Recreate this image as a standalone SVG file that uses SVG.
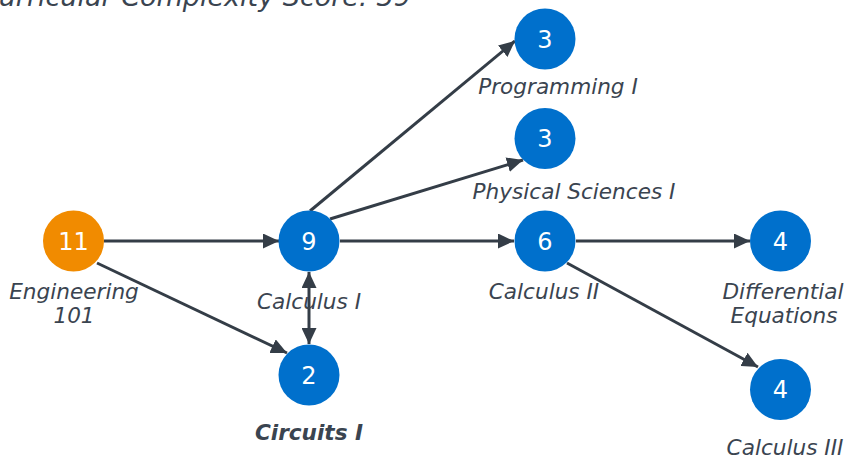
<svg xmlns="http://www.w3.org/2000/svg" width="849" height="459" viewBox="0 0 849 459">
<style>
.lbl{font-family:"DejaVu Sans",Verdana,sans-serif;font-size:21.6px;font-style:italic;fill:#3a4450;text-anchor:middle}
.num{font-family:"DejaVu Sans",Verdana,sans-serif;font-size:24px;fill:#ffffff;text-anchor:middle}
.title{font-family:"DejaVu Sans",Verdana,sans-serif;font-size:27px;font-style:italic;fill:#3a4450;text-anchor:end}
.edge{stroke:#343d47;stroke-width:3;fill:none}
.blue{fill:#0070cc}
.orange{fill:#f18b00}
</style>
<defs>
<marker id="ah" markerUnits="userSpaceOnUse" markerWidth="16" markerHeight="15" refX="16" refY="7.5" orient="auto">
<path d="M0,0 L16,7.5 L0,15 z" fill="#343d47"/>
</marker>
<marker id="ahs" markerUnits="userSpaceOnUse" markerWidth="16" markerHeight="15" refX="16" refY="7.5" orient="auto-start-reverse">
<path d="M0,0 L16,7.5 L0,15 z" fill="#343d47"/>
</marker>
</defs>
<text class="title" x="411" y="6">Curricular Complexity Score: 39</text>
<g id="edges">
<line class="edge" x1="104" y1="241" x2="279" y2="241" marker-end="url(#ah)"/>
<line class="edge" x1="97" y1="263" x2="287" y2="353" marker-end="url(#ah)"/>
<line class="edge" x1="309" y1="272" x2="309" y2="344" marker-start="url(#ahs)" marker-end="url(#ahs)"/>
<line class="edge" x1="310" y1="211" x2="515" y2="41" marker-end="url(#ah)"/>
<line class="edge" x1="330" y1="219" x2="523" y2="160" marker-end="url(#ah)"/>
<line class="edge" x1="340" y1="241" x2="514" y2="241" marker-end="url(#ah)"/>
<line class="edge" x1="576" y1="241" x2="750" y2="241" marker-end="url(#ah)"/>
<line class="edge" x1="567" y1="263" x2="758" y2="367" marker-end="url(#ah)"/>
</g>
<g id="eng101">
<circle class="orange" cx="73.5" cy="241" r="30.5"/>
<text class="num" x="73.5" y="249.5">11</text>
<text class="lbl" x="74" y="299">Engineering</text>
<text class="lbl" x="74" y="323">101</text>
</g>
<g id="calc1">
<circle class="blue" cx="309" cy="241" r="30.5"/>
<text class="num" x="309" y="249.5">9</text>
<text class="lbl" x="309" y="309">Calculus I</text>
</g>
<g id="circ1">
<circle class="blue" cx="309" cy="375" r="30.5"/>
<text class="num" x="309" y="383.5">2</text>
<text class="lbl" x="309" y="440" style="font-weight:bold">Circuits I</text>
</g>
<g id="prog1">
<circle class="blue" cx="545" cy="39" r="30.5"/>
<text class="num" x="545" y="47.5">3</text>
<text class="lbl" x="558" y="94">Programming I</text>
</g>
<g id="phys1">
<circle class="blue" cx="545" cy="138.5" r="30.5"/>
<text class="num" x="545" y="147">3</text>
<text class="lbl" x="574" y="199">Physical Sciences I</text>
</g>
<g id="calc2">
<circle class="blue" cx="545" cy="241" r="30.5"/>
<text class="num" x="545" y="249.5">6</text>
<text class="lbl" x="544" y="299">Calculus II</text>
</g>
<g id="diffeq">
<circle class="blue" cx="780.5" cy="241" r="30.5"/>
<text class="num" x="780.5" y="249.5">4</text>
<text class="lbl" x="783" y="299">Differential</text>
<text class="lbl" x="784" y="323">Equations</text>
</g>
<g id="calc3">
<circle class="blue" cx="780.5" cy="389.5" r="30.5"/>
<text class="num" x="780.5" y="398">4</text>
<text class="lbl" x="785" y="455">Calculus III</text>
</g>
</svg>
